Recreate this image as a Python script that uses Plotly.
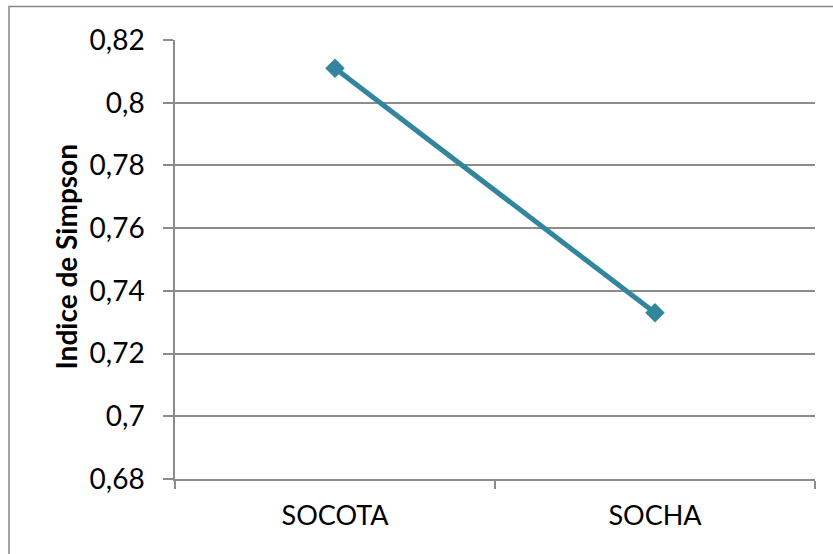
import plotly.graph_objects as go

# Simpson diversity index per locality
localities = ["SOCOTA", "SOCHA"]
simpson_index = [0.811, 0.733]

# Value axis ticks (comma decimal separator)
y_ticks = [0.68, 0.70, 0.72, 0.74, 0.76, 0.78, 0.80, 0.82]
y_tick_labels = ["0,68", "0,7", "0,72", "0,74", "0,76", "0,78", "0,8", "0,82"]

teal = "#31859C"
grid_gray = "#8C8C8C"
font_family = "Lato, Calibri, 'Open Sans', sans-serif"

fig = go.Figure()
fig.add_trace(go.Scatter(
    x=localities,
    y=simpson_index,
    mode="lines+markers",
    line=dict(color=teal, width=5),
    marker=dict(symbol="diamond", size=15, color=teal),
    showlegend=False,
    hoverinfo="x+y",
))

fig.update_layout(
    width=833,
    height=554,
    margin=dict(l=175, r=18, t=40, b=75),
    paper_bgcolor="white",
    plot_bgcolor="white",
    separators=",.",
    font=dict(family=font_family, size=27, color="#000000"),
    xaxis=dict(
        type="category",
        range=[-0.5, 1.5],
        showgrid=False,
        showline=True,
        linecolor=grid_gray,
        linewidth=1.5,
        ticks="outside",
        tickson="boundaries",
        ticklen=8,
        tickcolor=grid_gray,
        tickwidth=1.5,
        tickfont=dict(size=27),
        ticklabelstandoff=12,
    ),
    yaxis=dict(
        range=[0.68, 0.82],
        tickvals=y_ticks,
        ticktext=y_tick_labels,
        showgrid=True,
        gridcolor=grid_gray,
        gridwidth=1.5,
        zeroline=False,
        showline=True,
        linecolor=grid_gray,
        linewidth=1.5,
        ticks="outside",
        ticklen=10,
        tickcolor=grid_gray,
        tickwidth=1.5,
        tickfont=dict(size=28),
        ticklabelstandoff=13,
    ),
    shapes=[
        # chart frame
        dict(
            type="rect", xref="paper", yref="paper",
            x0=(9 - 175) / 640, x1=1.2,
            y0=-0.3, y1=1 + (40 - 6.5) / 439,
            line=dict(color="#878787", width=1.5),
            fillcolor="rgba(0,0,0,0)",
            layer="below",
        ),
    ],
    annotations=[
        dict(
            text="<b>Indice de Simpson</b>",
            xref="paper", yref="paper",
            x=(65 - 175) / 640, y=0.5 + (259.5 - 257.5) / 439,
            xanchor="center", yanchor="middle",
            textangle=-90,
            showarrow=False,
            font=dict(family=font_family, size=28, color="#000000"),
        ),
    ],
)

fig.write_html("out.html")
